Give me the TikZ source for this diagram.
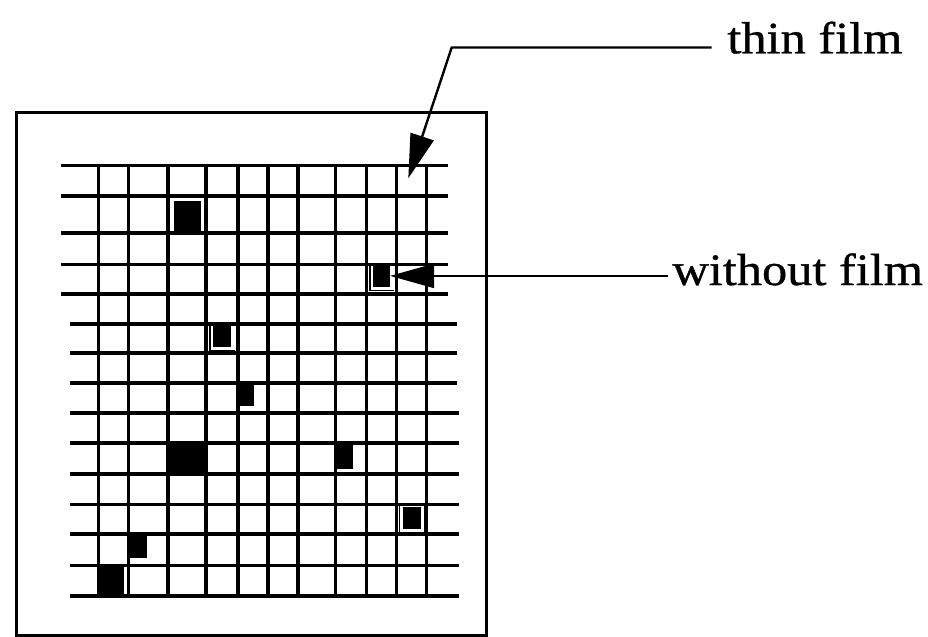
\documentclass[tikz,border=0pt]{standalone}
\usepackage{fontspec}
\setmainfont{Liberation Serif}
\newfontfamily\labelfont{Liberation Serif}[BoldFont={Liberation Serif},BoldFeatures={FakeBold=0.7}]
\usetikzlibrary{arrows.meta}
\begin{document}
\begin{tikzpicture}[x=0.5pt,y=-0.5pt,
  gridline/.style={line width=1.8pt},
  frame/.style={line width=1.5pt},
  leader/.style={line width=1.2pt,-{Triangle[length=22pt,width=12pt]}},
  hole/.style={rectangle,fill=black,draw=none,inner sep=0pt,outer sep=0pt},
  rim/.style={line width=0.7pt},
  label/.style={inner sep=0pt,anchor=base west,font=\labelfont\bfseries\fontsize{22.5}{27}\selectfont},
]
\useasboundingbox (0,0) rectangle (928,637);

% holder frame
\draw[frame] (16,112.5) rectangle (486.5,635.5);

% grid: horizontal lines (y / left end / right end)
\foreach \y/\xa/\xb in {165.5/61/448,196/61/448,233/61/448,264.5/61/448,294/61/448,
                        324/70/457,353/70/457,383/70/457,413/70/459,443/70/459,
                        474/70/459,504.5/70/459,534/70/459,565.5/70/459,596/70/459}
  \draw[gridline] (\xa,\y) -- (\xb,\y);
% grid: vertical lines
\foreach \x in {98.5,128.5,168,206,238,268,298,335.5,366.5,396.5,426.5}
  \draw[gridline] (\x,165.5) -- (\x,596);

% uncovered spots (no film)
\node[hole,minimum width=13.35pt,minimum height=15.5pt] (h1) at (187.3,216) {};
\node[hole,minimum width=8.35pt,minimum height=10.85pt] (h2) at (381.7,275.9) {};
\node[hole,minimum width=9pt,minimum height=11.15pt] (h3) at (222.4,335.6) {};
\node[hole,minimum width=7.85pt,minimum height=10.85pt] (h4) at (246,395.5) {};
\node[hole,minimum width=19pt,minimum height=15.5pt] (h5) at (187,458.5) {};
\node[hole,minimum width=8.4pt,minimum height=12pt] (h6) at (344.6,456.5) {};
\node[hole,minimum width=9.15pt,minimum height=10.85pt] (h7) at (412.2,518) {};
\node[hole,minimum width=8.3pt,minimum height=12pt] (h8) at (138.5,546.1) {};
\node[hole,minimum width=12.8pt,minimum height=15pt] (h9) at (111.5,579.4) {};

% thin rims around some spots
\draw[rim] ([shift={(-3.5,-1)}]h2.north west) -- ([shift={(-3.5,3.5)}]h2.south west) -- ([shift={(3.5,3.5)}]h2.south east);
\draw[rim] ([shift={(-3.5,-1)}]h3.north west) -- ([shift={(-3.5,3.5)}]h3.south west) -- ([shift={(3.5,3.5)}]h3.south east);
\draw[rim] ([shift={(-3.5,-1)}]h7.north west) -- ([shift={(-3.5,3.5)}]h7.south west) -- ([shift={(3.5,3.5)}]h7.south east) -- ([shift={(3.5,-1)}]h7.north east);

% labels
\node[label] (thin) at (727,53.3) {\scalebox{1.12}[1]{thin film}};
\node[label] (without) at (672,285) {\scalebox{1.12}[1]{without film}};

% leaders
\coordinate (film) at (408.3,178.3);
\coordinate (bend) at (451.7,47.5);
\coordinate (wstart) at ([xshift=-1.85pt]without.base west);
\draw[leader] ([xshift=-7.65pt,yshift=2.9pt]thin.base west) -- (bend) -- (film);
\draw[leader] (wstart |- h2.east) -- (h2.east);
\end{tikzpicture}
\end{document}
